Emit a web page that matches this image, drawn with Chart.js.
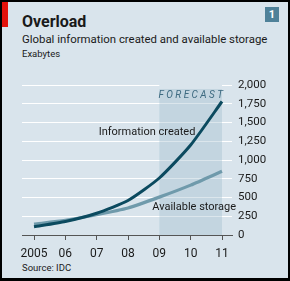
<!DOCTYPE html>
<html>
<head>
<meta charset="utf-8">
<script src="https://cdn.jsdelivr.net/npm/chart.js@4"></script>
<style>
  html, body { margin:0; padding:0; }
  body { width:290px; height:281px; background:#000; position:relative; overflow:hidden; font-family: Roboto, "Open Sans", sans-serif; }
  #panel { position:absolute; left:2px; top:2px; width:286px; height:276px; background:#d9e4ec; }
  #wrap { position:absolute; left:0; top:0; width:290px; height:281px; }
  #red { position:absolute; left:2px; top:2px; width:6px; height:25px; background:#e3120b; }
  #num { position:absolute; left:265px; top:7px; width:14px; height:15px; background:#4f8199; color:#fff; font: bold 11px Roboto, sans-serif; text-align:center; line-height:15px; }
  .t { position:absolute; left:22px; color:#1a1a1a; white-space:nowrap; }
  #title { top:12px; font: bold 16px Roboto, sans-serif; }
  #sub { top:32px; font: 11.4px Roboto, sans-serif; }
  #unit { top:48px; font: 9.5px Roboto, sans-serif; }
  #src { top:262px; font: 9.5px Roboto, sans-serif; }
</style>
</head>
<body>
<div id="panel"></div>
<div id="red"></div>
<div id="num">1</div>
<div class="t" id="title">Overload</div>
<div class="t" id="sub">Global information created and available storage</div>
<div class="t" id="unit">Exabytes</div>
<div class="t" id="src">Source: IDC</div>
<div id="wrap"><canvas id="c" width="290" height="281"></canvas></div>
<script>
const years = [2005, 2006, 2007, 2008, 2009, 2010, 2011];
const xTickLabels = ['2005', '06', '07', '08', '09', '10', '11'];
const informationCreated = [110, 180, 290, 460, 760, 1200, 1780];
const availableStorage = [145, 195, 270, 360, 505, 665, 850];
const yTicks = [0, 250, 500, 750, 1000, 1250, 1500, 1750, 2000];
const forecastStart = 2009, forecastEnd = 2011;

const FONT = 'Roboto, "Open Sans", sans-serif';

const decor = {
  id: 'decor',
  beforeDatasetsDraw(chart) {
    const {ctx, scales:{x, y}, chartArea} = chart;
    const x0 = x.getPixelForValue(forecastStart), x1 = x.getPixelForValue(forecastEnd);
    ctx.save();
    ctx.fillStyle = '#d9e4ec';
    ctx.fillRect(x0, chartArea.top - 2, x1 - x0, 6);
    ctx.fillStyle = 'rgba(160,188,204,0.38)';
    ctx.fillRect(x0, chartArea.top + 4, x1 - x0, chartArea.bottom - chartArea.top - 4);
    ctx.restore();
  },
  afterDatasetsDraw(chart) {
    const {ctx, scales:{x, y}} = chart;
    ctx.save();
    ctx.textBaseline = 'middle';
    const cx = (x.getPixelForValue(forecastStart) + x.getPixelForValue(forecastEnd)) / 2;
    ctx.fillStyle = '#3d6a80';
    ctx.font = 'italic 10px ' + FONT;
    const txt = 'FORECAST';
    const sp = 2.4;
    let w = 0;
    for (const ch of txt) w += ctx.measureText(ch).width + sp;
    w -= sp;
    let px = cx - w / 2;
    for (const ch of txt) { ctx.fillText(ch, px, 95); px += ctx.measureText(ch).width + sp; }
    ctx.fillStyle = '#1a1a1a';
    ctx.font = '11px ' + FONT;
    ctx.textAlign = 'right';
    ctx.fillText('Information created', x.getPixelForValue(2010.15), y.getPixelForValue(1370));
    ctx.fillText('Available storage', x.getPixelForValue(2011.45), y.getPixelForValue(375));
    ctx.restore();
  }
};

new Chart(document.getElementById('c'), {
  type: 'line',
  data: {
    datasets: [
      { label: 'Information created', data: years.map((v,i)=>({x:v, y:informationCreated[i]})),
        borderColor: '#0b4a5f', borderWidth: 3, pointRadius: 0, tension: 0.2, order: 1 },
      { label: 'Available storage', data: years.map((v,i)=>({x:v, y:availableStorage[i]})),
        borderColor: '#6f9aab', borderWidth: 3.2, pointRadius: 0, tension: 0.2, order: 2 }
    ]
  },
  options: {
    responsive: false, animation: false,
    layout: { padding: { left: 22, top: 85, right: 0, bottom: 0 } },
    plugins: { legend: { display: false }, tooltip: { enabled: false } },
    scales: {
      x: {
        type: 'linear', min: 2004.617, max: 2011.319,
        afterBuildTicks: s => { s.ticks = years.map(v => ({value: v})); },
        afterFit: s => { s.height = 46; },
        border: { display: true, color: '#555', width: 1 },
        grid: { drawOnChartArea: false, drawTicks: true, tickLength: 5, color: '#555' },
        ticks: { padding: 7, color: '#1a1a1a', font: { family: FONT, size: 12 },
          callback: (v) => xTickLabels[years.indexOf(v)] }
      },
      y: {
        position: 'right', min: 0, max: 2000,
        afterBuildTicks: s => { s.ticks = yTicks.map(v => ({value: v})); },
        afterFit: s => { s.width = 58; },
        border: { display: false },
        grid: { drawTicks: false, color: c => c.tick.value === 0 ? 'rgba(0,0,0,0)' : '#ffffff', lineWidth: 1 },
        ticks: { padding: 6, color: '#1a1a1a', font: { family: FONT, size: 11.5 },
          callback: v => v.toLocaleString('en-US') }
      }
    }
  },
  plugins: [decor]
});
</script>
</body>
</html>
